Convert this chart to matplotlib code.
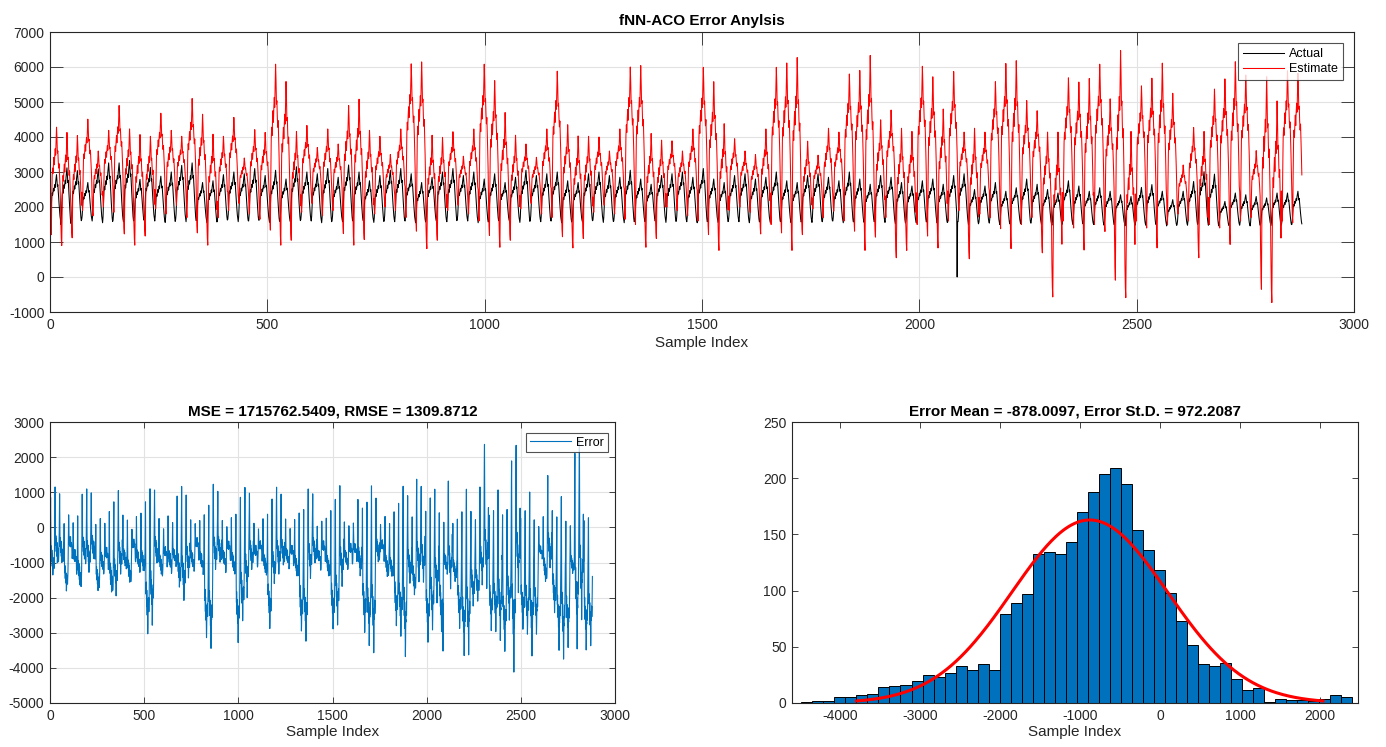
import numpy as np
import matplotlib
matplotlib.use('Agg')
import matplotlib.pyplot as plt

plt.rcParams['font.family'] = ['Liberation Sans', 'DejaVu Sans']
plt.rcParams['axes.unicode_minus'] = False

# ---------------- data ----------------
samples_per_day = 24

# daily maximum of the estimate
est_peak = [4280, 4130, 4040, 4510, 3600, 4190, 4900, 4230, 4070, 4020,
            4680, 4190, 4020, 5100, 4650, 4080, 4020, 4560, 3400, 4210,
            4130, 6080, 5585, 4160, 4330, 3700, 4230, 3800, 4900, 5080,
            4190, 4020, 3500, 4230, 6090, 6145, 4050, 3990, 4150, 3450,
            4230, 6080, 5610, 4700, 4050, 3800, 3420, 4230, 5880, 4350,
            4030, 4020, 4000, 3600, 4230, 6000, 6040, 4100, 3910, 3890,
            3600, 4230, 5990, 5580, 4380, 3950, 3600, 3500, 4230, 5990,
            6115, 6270, 3880, 3480, 4250, 4140, 5800, 5900, 6330, 4490,
            4770, 4250, 4160, 6020, 5720, 4800, 5870, 4140, 4250, 4140,
            5580, 6100, 6180, 5040, 4750, 4140, 4140, 5690, 5570, 5670,
            6080, 5090, 6470, 4160, 5460, 5680, 6110, 5250, 3200, 4270,
            4160, 5370, 5660, 6150, 5770, 3610, 5720, 5030, 5890, 5820]

# daily minimum of the estimate
est_low = [1210, 900, 1120, 1900, 1750, 2000, 1850, 1230, 910, 1170,
           1950, 1800, 2050, 1700, 1260, 910, 1700, 1900, 2100, 1800,
           1650, 1340, 910, 1050, 1850, 2100, 1750, 1900, 1240, 910,
           1070, 1800, 2000, 1900, 1700, 1310, 810, 1050, 1900, 2050,
           1800, 1600, 1190, 850, 1050, 1950, 2100, 1800, 1700, 1150,
           830, 1100, 1850, 2050, 1800, 1650, 1500, 850, 1100, 2000,
           1900, 1750, 1600, 1210, 760, 1900, 2000, 1850, 1230, 1500,
           1260, 760, 1210, 1950, 1700, 1880, 1600, 1310, 760, 1140,
           1700, 550, 760, 1500, 1170, 830, 1600, 1900, 520, 1800,
           1700, 1380, 810, 1500, 1700, 690, -570, 1600, 1400, 770,
           1500, 1300, -90, -590, 1600, 1400, 830, 1500, 1800, 1600,
           550, 1500, 1400, 930, 1600, 1700, -350, -730, 1600, 1550]

# daily maximum of the actual load
act_peak = [2925, 3120, 3040, 2700, 3090, 3260, 3260, 3330, 2790, 3130,
            2880, 3000, 3190, 3260, 2700, 2750, 2925, 3000, 2950, 3100,
            2900, 3050, 2800, 3150, 3000, 2950, 3100, 2850, 3200, 3000,
            2750, 2900, 3050, 3100, 2950, 2700, 2850, 3000, 3100, 2900,
            3000, 2800, 2950, 2700, 2850, 3050, 2900, 2950, 3000, 2750,
            2700, 2950, 3000, 2900, 2850, 3050, 2800, 2650, 2900, 2950,
            3000, 2850, 3100, 2800, 2700, 2900, 2950, 2800, 2850, 3000,
            2750, 2700, 2900, 2950, 2850, 2750, 3000, 2800, 2650, 2900,
            2850, 2700, 2600, 2750, 2800, 2650, 2900, 2950, 2500, 2600,
            2700, 2450, 2550, 2800, 2650, 2500, 2400, 2750, 2600, 2450,
            2550, 2450, 2350, 2300, 2560, 2640, 2450, 2210, 2450, 2730,
            3010, 2940, 2160, 2400, 2350, 2300, 2260, 2400, 2400, 2450]

# daily minimum of the actual load
act_low = [1620, 1500, 1580, 1650, 1600, 1550, 1620, 1580, 1600, 1650,
           1600, 1560, 1640, 1580, 1620, 1550, 1600, 1650, 1580, 1600,
           1620, 1560, 1600, 1580, 1640, 1600, 1550, 1620, 1580, 1600,
           1600, 1560, 1620, 1580, 1600, 1550, 1620, 1600, 1580, 1640,
           1600, 1550, 1580, 1620, 1600, 1560, 1620, 1580, 1600, 1550,
           1600, 1580, 1620, 1560, 1600, 1550, 1600, 1580, 1620, 1560,
           1600, 1580, 1550, 1600, 1560, 1620, 1580, 1550, 1600, 1560,
           1580, 1550, 1600, 1560, 1580, 1600, 1550, 1580, 1560, 1600,
           1560, 1520, 1580, 1550, 1600, 1540, 1560, 1580, 1500, 1560,
           1540, 1500, 1560, 1520, 1540, 1500, 1480, 1540, 1500, 1520,
           1500, 1480, 1520, 1460, 1500, 1480, 1520, 1460, 1500, 1480,
           1520, 1480, 1460, 1500, 1480, 1460, 1500, 1470, 1480, 1500]

# typical within-day profile (0 = daily min, 1 = daily max)
act_shape = [0.00, 0.10, 0.34, 0.52, 0.60, 0.55, 0.62, 0.70, 0.64, 0.72, 0.78, 0.72,
             0.84, 0.92, 1.00, 0.86, 0.74, 0.78, 0.62, 0.48, 0.34, 0.20, 0.09, 0.02]
est_shape = [0.20, 0.06, 0.00, 0.32, 0.55, 0.62, 0.57, 0.66, 0.72, 0.65, 0.74, 0.80,
             0.74, 0.88, 1.00, 0.90, 0.76, 0.78, 0.68, 0.62, 0.66, 0.56, 0.45, 0.32]

act_dropout_sample = 2087
act_dropout_value = 0

# histogram of the error (bin counts)
hist_counts = [1, 2, 2, 5, 5, 7, 8, 14, 15, 16, 20, 25, 23, 27, 33, 29, 35, 29,
               79, 89, 97, 133, 134, 133, 143, 170, 188, 204, 209, 195, 154, 136,
               118, 98, 73, 52, 35, 33, 36, 21, 12, 13, 1, 4, 3, 3, 2, 4, 7, 5]
hist_first_edge = -4484
hist_bin_width = 137.8

err_mean = -878.0097
err_std = 972.2087
mse_val = 1715762.5409
rmse_val = 1309.8712


def build(peaks, lows, shape):
    out = []
    for p, l in zip(peaks, lows):
        out.extend(l + (p - l) * s for s in shape)
    return np.array(out, dtype=float)


actual = build(act_peak, act_low, act_shape)
estimate = build(est_peak, est_low, est_shape)
actual[act_dropout_sample - 1] = act_dropout_value
error = actual - estimate
idx = np.arange(1, len(actual) + 1)

# ---------------- figure ----------------
W, H = 1386, 747
fig = plt.figure(figsize=(W / 100, H / 100), dpi=100)


def rect(l, t, r, b):
    return [l / W, 1 - b / H, (r - l) / W, (b - t) / H]


ax1 = fig.add_axes(rect(50, 32, 1354, 312))
ax2 = fig.add_axes(rect(50, 422, 615, 703))
ax3 = fig.add_axes(rect(792, 422, 1358, 703))

edge = '#262626'


def style(ax, ticklen, grid=True):
    if grid:
        ax.grid(True, color='#e2e2e2', linewidth=0.8)
    ax.set_axisbelow(True)
    ax.tick_params(direction='in', length=ticklen, width=0.6, top=True, right=True,
                   color=edge, labelcolor=edge, labelsize=10, pad=4)
    for s in ax.spines.values():
        s.set_color(edge)
        s.set_linewidth(0.8)


# top panel
ax1.plot(idx, actual, color='black', linewidth=0.75, label='Actual')
ax1.plot(idx, estimate, color='red', linewidth=0.75, label='Estimate')
ax1.set_xlim(0, 3000)
ax1.set_ylim(-1000, 7000)
ax1.set_xticks(np.arange(0, 3001, 500))
ax1.set_yticks(np.arange(-1000, 7001, 1000))
style(ax1, 9.4)
ax1.set_title('fNN-ACO Error Anylsis', fontsize=11, fontweight='bold', pad=5)
ax1.set_xlabel('Sample Index', fontsize=11, color=edge, labelpad=3)
leg1 = ax1.legend(loc='upper right', bbox_to_anchor=(0.9916, 0.9607), borderaxespad=0,
                  fontsize=9, frameon=True, fancybox=False, handlelength=3.3,
                  handletextpad=0.4, borderpad=0.4, labelspacing=0.25)
leg1.get_frame().set_edgecolor(edge)
leg1.get_frame().set_linewidth(0.8)

# bottom-left: error
ax2.plot(idx, error, color='#0072BD', linewidth=0.8, label='Error')
ax2.set_xlim(0, 3000)
ax2.set_ylim(-5000, 3000)
ax2.set_xticks(np.arange(0, 3001, 500))
ax2.set_yticks(np.arange(-5000, 3001, 1000))
style(ax2, 4)
ax2.set_title(f'MSE = {mse_val:.4f}, RMSE = {rmse_val:.4f}', fontsize=11,
              fontweight='bold', pad=5)
ax2.set_xlabel('Sample Index', fontsize=11, color=edge, labelpad=2)
leg2 = ax2.legend(loc='upper right', bbox_to_anchor=(0.9876, 0.961), borderaxespad=0,
                  fontsize=9, frameon=True, fancybox=False, handlelength=3.3,
                  handletextpad=0.4, borderpad=0.3)
leg2.get_frame().set_edgecolor(edge)
leg2.get_frame().set_linewidth(0.8)

# bottom-right: histogram with normal fit
edges = hist_first_edge + hist_bin_width * np.arange(len(hist_counts))
ax3.bar(edges, hist_counts, width=hist_bin_width, align='edge', color='#0072BD',
        edgecolor='black', linewidth=0.7)
xs = np.linspace(err_mean - 3 * err_std, err_mean + 3 * err_std, 300)
n_total = sum(hist_counts)
pdf = np.exp(-0.5 * ((xs - err_mean) / err_std) ** 2) / (err_std * np.sqrt(2 * np.pi))
ax3.plot(xs, n_total * hist_bin_width * pdf, color='red', linewidth=2.2)
ax3.set_xlim(-4600, 2475)
ax3.set_ylim(0, 250)
ax3.set_xticks(np.arange(-4000, 2001, 1000))
ax3.set_yticks(np.arange(0, 251, 50))
style(ax3, 4, grid=False)
ax3.set_title(f'Error Mean = {err_mean:.4f}, Error St.D. = {err_std:.4f}', fontsize=11,
              fontweight='bold', pad=5)
ax3.set_xlabel('Sample Index', fontsize=11, color=edge, labelpad=2)

fig.savefig('out.png', dpi=100, facecolor='white')
